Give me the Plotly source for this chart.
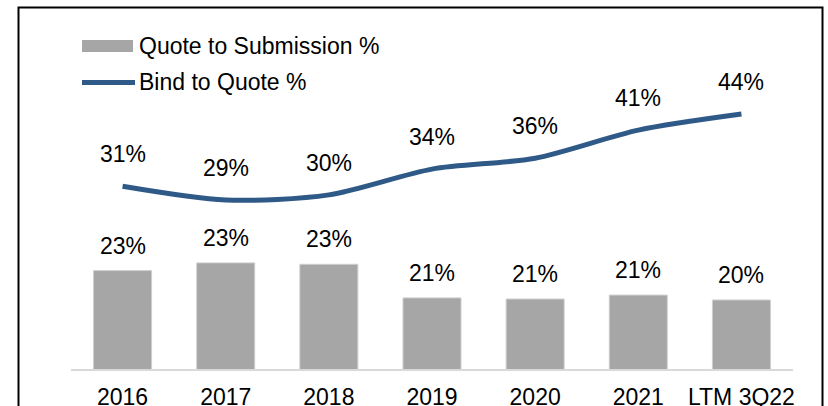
import plotly.graph_objects as go

# ---- data ----
categories = ["2016", "2017", "2018", "2019", "2020", "2021", "LTM 3Q22"]
quote_to_submission = [22.55, 23.1, 23.0, 20.6, 20.52, 20.8, 20.45]   # %
bind_to_quote = [31.4, 29.0, 29.9, 34.4, 36.3, 41.2, 44.0]            # %

bar_name = "Quote to Submission %"
line_name = "Bind to Quote %"

# ---- layout constants (pixels) ----
W, H = 828, 406
ML, MR, MT, MB = 71, 35, 20, 37
PW, PH = W - ML - MR, H - MT - MB
FONT = "Liberation Sans, Arial, sans-serif"
FS = 23
BAR_COLOR = "#A6A6A6"
LINE_COLOR = "#2F5A87"


def px_x(x):
    """pixel x -> paper fraction"""
    return (x - ML) / PW


def px_y(y):
    """pixel y -> paper fraction"""
    return (H - MB - y) / PH


fig = go.Figure()
fig.add_trace(go.Bar(
    x=categories, y=quote_to_submission, name=bar_name,
    marker=dict(color=BAR_COLOR, line=dict(color="#CFCFCF", width=1)),
    yaxis="y", showlegend=False, hoverinfo="skip",
))
fig.add_trace(go.Scatter(
    x=categories, y=bind_to_quote, name=line_name, mode="lines",
    line=dict(color=LINE_COLOR, width=5, shape="spline", smoothing=0.8),
    yaxis="y2", showlegend=False, hoverinfo="skip",
))

annotations = []
for i, v in enumerate(quote_to_submission):
    annotations.append(dict(x=i, y=v, xref="x", yref="y", text=f"{v:.0f}%",
                            showarrow=False, yanchor="middle", yshift=25,
                            font=dict(family=FONT, size=FS, color="black")))
for i, v in enumerate(bind_to_quote):
    annotations.append(dict(x=i, y=v, xref="x", yref="y2", text=f"{v:.0f}%",
                            showarrow=False, yanchor="middle", yshift=32,
                            font=dict(family=FONT, size=FS, color="black")))

# manual legend text
annotations.append(dict(x=px_x(137), y=px_y(46), xref="paper", yref="paper",
                        text=bar_name, showarrow=False, xanchor="left", yanchor="middle",
                        font=dict(family=FONT, size=FS, color="black")))
annotations.append(dict(x=px_x(137), y=px_y(82), xref="paper", yref="paper",
                        text=line_name, showarrow=False, xanchor="left", yanchor="middle",
                        font=dict(family=FONT, size=FS, color="black")))

shapes = [
    # outer border
    dict(type="rect", xref="paper", yref="paper",
         x0=px_x(18.5), x1=px_x(822.5), y0=px_y(430), y1=px_y(7.5),
         line=dict(color="black", width=2), fillcolor="rgba(0,0,0,0)"),
    # legend swatches
    dict(type="rect", xref="paper", yref="paper",
         x0=px_x(82), x1=px_x(133), y0=px_y(52), y1=px_y(40),
         line=dict(width=0), fillcolor=BAR_COLOR),
    dict(type="line", xref="paper", yref="paper",
         x0=px_x(82), x1=px_x(135), y0=px_y(82.5), y1=px_y(82.5),
         line=dict(color=LINE_COLOR, width=5)),
]

fig.update_layout(
    template="none",
    width=W, height=H,
    margin=dict(l=ML, r=MR, t=MT, b=MB, pad=0),
    paper_bgcolor="white", plot_bgcolor="white",
    font=dict(family=FONT, size=FS, color="black"),
    bargap=0.4375,
    showlegend=False,
    hovermode=False,
    xaxis=dict(type="category", range=[-0.5, len(categories) - 0.5], automargin=False,
               showline=True, linecolor="#D9D9D9", linewidth=1.5,
               ticks="outside", ticklen=7, tickcolor="rgba(0,0,0,0)",
               showgrid=False, zeroline=False, fixedrange=True,
               tickfont=dict(family=FONT, size=FS, color="black")),
    yaxis=dict(range=[15.52, 15.52 + PH / 14.0], visible=False, showgrid=False,
               zeroline=False, automargin=False, fixedrange=True),
    yaxis2=dict(range=[-0.47, -0.47 + PH / 5.733], overlaying="y", visible=False,
                showgrid=False, zeroline=False, automargin=False, fixedrange=True),
    annotations=annotations,
    shapes=shapes,
)

fig.write_html(
    "out.html",
    config={"displayModeBar": False, "staticPlot": True},
    post_script="document.body.style.margin='0';"
                "document.documentElement.style.overflow='hidden';"
                "document.body.style.overflow='hidden';",
)
